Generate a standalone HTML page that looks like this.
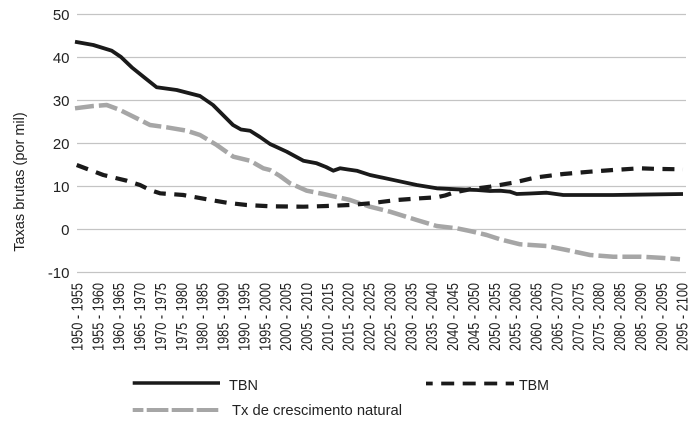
<!DOCTYPE html>
<html>
<head>
<meta charset="utf-8">
<style>
html,body{margin:0;padding:0;background:#fff;}
svg{display:block;}
text{font-family:"Liberation Sans",Arial,sans-serif;fill:#222;}
</style>
</head>
<body>
<svg width="700" height="422" viewBox="0 0 700 422" xmlns="http://www.w3.org/2000/svg">
<rect width="700" height="422" fill="#fff"/>
<g stroke="#c4c4c4" stroke-width="1.2">
<line x1="77" y1="14.5" x2="686" y2="14.5"/>
<line x1="77" y1="57.5" x2="686" y2="57.5"/>
<line x1="77" y1="100.5" x2="686" y2="100.5"/>
<line x1="77" y1="143.5" x2="686" y2="143.5"/>
<line x1="77" y1="186.5" x2="686" y2="186.5"/>
<line x1="77" y1="229.5" x2="686" y2="229.5"/>
<line x1="77" y1="272.5" x2="686" y2="272.5"/>
</g>
<g font-size="15" text-anchor="end">
<text x="69.5" y="19.8">50</text>
<text x="69.5" y="62.8">40</text>
<text x="69.5" y="105.8">30</text>
<text x="69.5" y="148.8">20</text>
<text x="69.5" y="191.8">10</text>
<text x="69.5" y="234.8">0</text>
<text x="69.5" y="277.8">-10</text>
</g>
<text transform="translate(24,182) rotate(-90)" font-size="14.5" text-anchor="middle">Taxas brutas (por mil)</text>

<polyline fill="none" stroke="#a6a6a6" stroke-width="4.5" stroke-dasharray="19 5" stroke-linejoin="round"
points="75,108.3 93.3,106 106.7,105 120,110 136.7,118.3 150,125 166.7,127.3 186.7,130.7 200,135 216.7,145 233.3,156.7 250,160.7 263.3,168.3 270,170 280,176 290,183.3 306.7,190.7 323.3,194 350,200 370,206.7 390,211.7 416.7,220 436.7,226 456.7,228.3 470,231 486.7,235 500,239.3 520,244.3 546.7,246 566.7,250 590,255 613.3,256.7 640,256.7 660,257.7 680,259.3"/>
<polyline fill="none" stroke="#1a1a1a" stroke-width="4.2" stroke-dasharray="12 8.5" stroke-linejoin="round"
points="76.7,165 103.3,175 126.7,180.7 140,185 150,190 160,193.3 183.3,195 206.7,199.3 226.7,202.7 246.7,205 270,206.3 303.3,206.7 326.7,206 350,205 370,203.3 396.7,200 420,198.3 436.7,197.3 445,195.5 453.3,192.7 470,189.3 490,186.7 513,182.7 536.7,177.3 563.3,174 590,171.7 613.3,170 640,168.3 660,169 683,169.3"/>
<polyline fill="none" stroke="#1a1a1a" stroke-width="3.8" stroke-linejoin="round"
points="75,41.7 93.3,45 111.7,50.7 121,57 131.7,67.3 145,78 156.7,87.3 176.7,90 200,96 213,105 223,115 233,125 241,129.5 250,130.7 260,137 270,144 286.7,151.7 303.3,160.7 316.7,163.3 326,167 333.3,170.7 340,168.3 348,169.5 356.7,170.7 370,175 396.7,180.7 416.7,185 436.7,188.3 456.7,189.3 476.7,190 490,191 500,190.7 510,191.7 516.7,194 530,193.5 546.7,192.7 563.3,195 613,195 683,194"/>

<g font-size="16">
<text transform="translate(82.4,351) rotate(-90)" textLength="68" lengthAdjust="spacingAndGlyphs">1950 - 1955</text>
<text transform="translate(103.3,351) rotate(-90)" textLength="68" lengthAdjust="spacingAndGlyphs">1955 - 1960</text>
<text transform="translate(124.1,351) rotate(-90)" textLength="68" lengthAdjust="spacingAndGlyphs">1960 - 1965</text>
<text transform="translate(145.0,351) rotate(-90)" textLength="68" lengthAdjust="spacingAndGlyphs">1965 - 1970</text>
<text transform="translate(165.9,351) rotate(-90)" textLength="68" lengthAdjust="spacingAndGlyphs">1970 - 1975</text>
<text transform="translate(186.8,351) rotate(-90)" textLength="68" lengthAdjust="spacingAndGlyphs">1975 - 1980</text>
<text transform="translate(207.6,351) rotate(-90)" textLength="68" lengthAdjust="spacingAndGlyphs">1980 - 1985</text>
<text transform="translate(228.5,351) rotate(-90)" textLength="68" lengthAdjust="spacingAndGlyphs">1985 - 1990</text>
<text transform="translate(249.4,351) rotate(-90)" textLength="68" lengthAdjust="spacingAndGlyphs">1990 - 1995</text>
<text transform="translate(270.3,351) rotate(-90)" textLength="68" lengthAdjust="spacingAndGlyphs">1995 - 2000</text>
<text transform="translate(291.1,351) rotate(-90)" textLength="68" lengthAdjust="spacingAndGlyphs">2000 - 2005</text>
<text transform="translate(312.0,351) rotate(-90)" textLength="68" lengthAdjust="spacingAndGlyphs">2005 - 2010</text>
<text transform="translate(332.8,351) rotate(-90)" textLength="68" lengthAdjust="spacingAndGlyphs">2010 - 2015</text>
<text transform="translate(353.7,351) rotate(-90)" textLength="68" lengthAdjust="spacingAndGlyphs">2015 - 2020</text>
<text transform="translate(374.6,351) rotate(-90)" textLength="68" lengthAdjust="spacingAndGlyphs">2020 - 2025</text>
<text transform="translate(395.5,351) rotate(-90)" textLength="68" lengthAdjust="spacingAndGlyphs">2025 - 2030</text>
<text transform="translate(416.3,351) rotate(-90)" textLength="68" lengthAdjust="spacingAndGlyphs">2030 - 2035</text>
<text transform="translate(437.2,351) rotate(-90)" textLength="68" lengthAdjust="spacingAndGlyphs">2035 - 2040</text>
<text transform="translate(458.1,351) rotate(-90)" textLength="68" lengthAdjust="spacingAndGlyphs">2040 - 2045</text>
<text transform="translate(478.9,351) rotate(-90)" textLength="68" lengthAdjust="spacingAndGlyphs">2045 - 2050</text>
<text transform="translate(499.8,351) rotate(-90)" textLength="68" lengthAdjust="spacingAndGlyphs">2050 - 2055</text>
<text transform="translate(520.7,351) rotate(-90)" textLength="68" lengthAdjust="spacingAndGlyphs">2055 - 2060</text>
<text transform="translate(541.5,351) rotate(-90)" textLength="68" lengthAdjust="spacingAndGlyphs">2060 - 2065</text>
<text transform="translate(562.4,351) rotate(-90)" textLength="68" lengthAdjust="spacingAndGlyphs">2065 - 2070</text>
<text transform="translate(583.3,351) rotate(-90)" textLength="68" lengthAdjust="spacingAndGlyphs">2070 - 2075</text>
<text transform="translate(604.2,351) rotate(-90)" textLength="68" lengthAdjust="spacingAndGlyphs">2075 - 2080</text>
<text transform="translate(625.0,351) rotate(-90)" textLength="68" lengthAdjust="spacingAndGlyphs">2080 - 2085</text>
<text transform="translate(645.9,351) rotate(-90)" textLength="68" lengthAdjust="spacingAndGlyphs">2085 - 2090</text>
<text transform="translate(666.8,351) rotate(-90)" textLength="68" lengthAdjust="spacingAndGlyphs">2090 - 2095</text>
<text transform="translate(687.6,351) rotate(-90)" textLength="68" lengthAdjust="spacingAndGlyphs">2095 - 2100</text>
</g>
<line x1="132.7" y1="383" x2="220" y2="383" stroke="#1a1a1a" stroke-width="3.6"/>
<text x="229" y="390" font-size="14.5" textLength="29" lengthAdjust="spacingAndGlyphs">TBN</text>
<line x1="426" y1="383.5" x2="514" y2="383.5" stroke="#1a1a1a" stroke-width="3.8" stroke-dasharray="13 8.5" stroke-dashoffset="6.3"/>
<text x="519" y="390" font-size="14.5" textLength="30" lengthAdjust="spacingAndGlyphs">TBM</text>
<line x1="132.7" y1="410" x2="218.3" y2="410" stroke="#a6a6a6" stroke-width="4" stroke-dasharray="21.7 3.3" stroke-dashoffset="11"/>
<text x="232" y="415" font-size="14.5" textLength="170" lengthAdjust="spacingAndGlyphs">Tx de crescimento natural</text>
</svg>
</body>
</html>
